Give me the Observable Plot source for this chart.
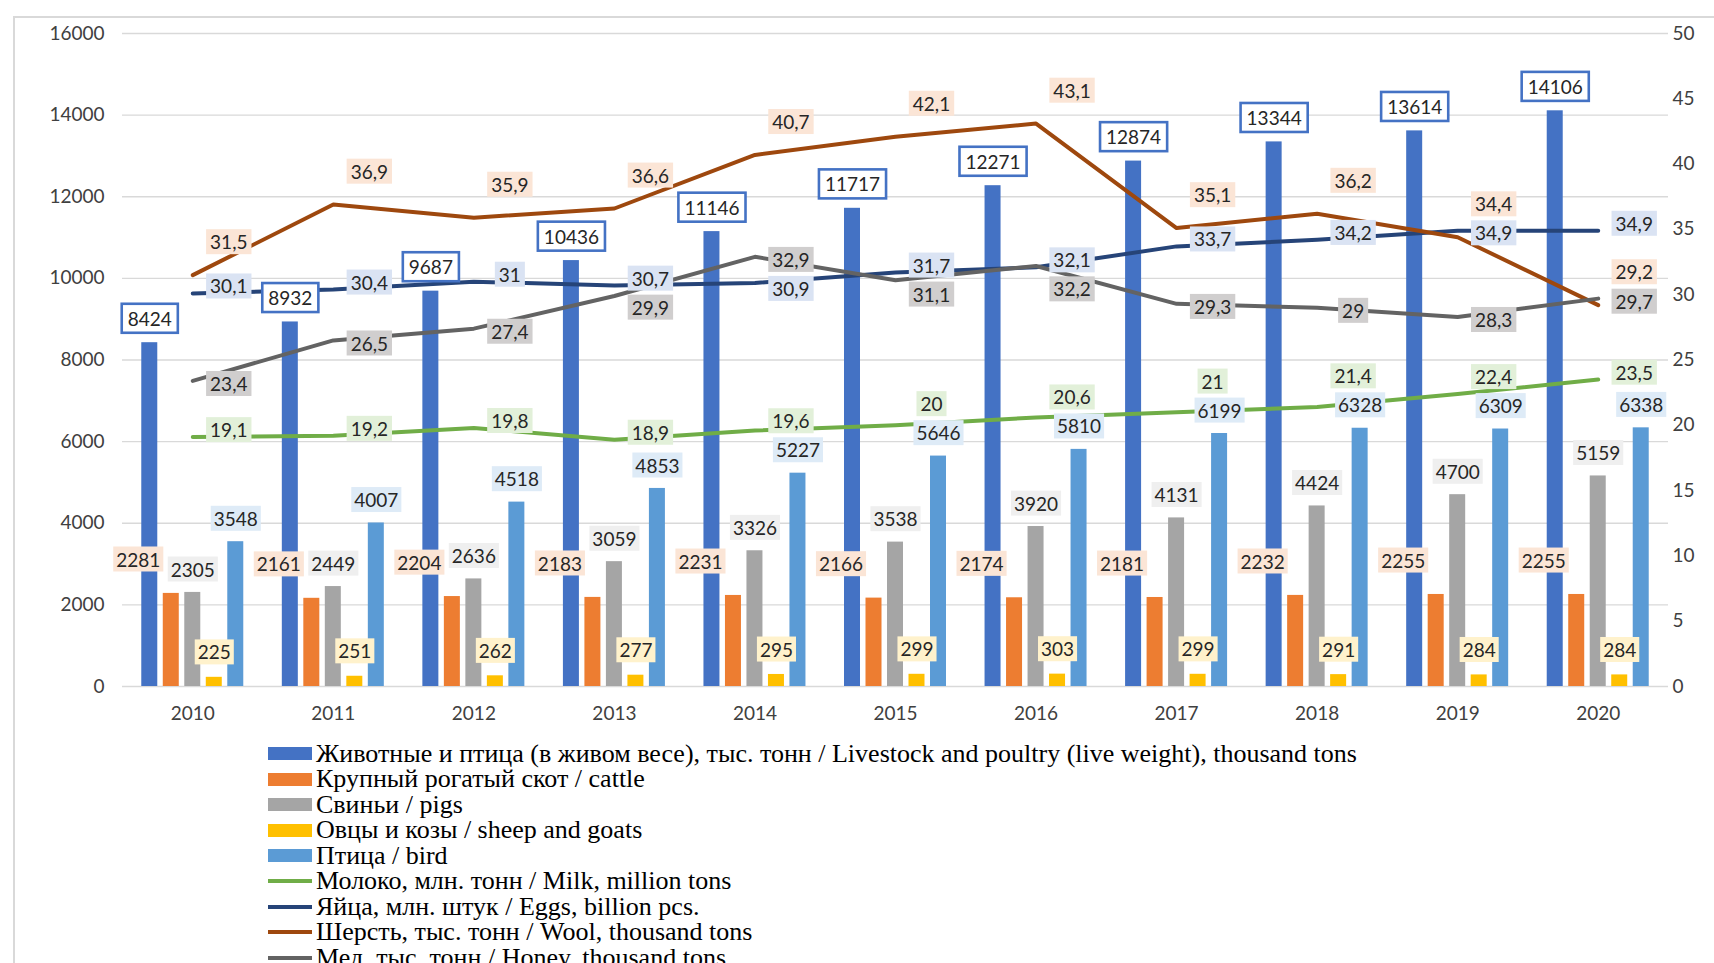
<!DOCTYPE html>
<html><head><meta charset="utf-8">
<script src="https://cdn.jsdelivr.net/npm/d3@7"></script>
<script src="https://cdn.jsdelivr.net/npm/@observablehq/plot@0.6"></script>
<style>
body{margin:0;background:#fff;}
#wrap{position:relative;width:1714px;height:963px;overflow:hidden;font-family:Lato,sans-serif;background:#fff;}
#frame{position:absolute;left:13px;top:16px;width:1720px;height:960px;border-top:2px solid #d9d9d9;border-left:2px solid #d9d9d9;}
#chart{position:absolute;left:0;top:0;}
#legend{position:absolute;left:268px;top:741px;font-family:"Liberation Serif",serif;font-size:26px;color:#000;}
.row{height:25.5px;display:flex;align-items:center;white-space:nowrap;}
.sw{display:inline-block;width:44px;margin-right:4px;flex:none;}
.tx{display:block;height:22px;line-height:22px;overflow:visible;}
</style></head>
<body><div id="wrap"><div id="frame"></div><div id="chart"></div><div id="legend"></div></div>
<script>
// ---- data ----
const years = [2010, 2011, 2012, 2013, 2014, 2015, 2016, 2017, 2018, 2019, 2020];
const livestock = [8424, 8932, 9687, 10436, 11146, 11717, 12271, 12874, 13344, 13614, 14106];
const cattle = [2281, 2161, 2204, 2183, 2231, 2166, 2174, 2181, 2232, 2255, 2255];
const pigs = [2305, 2449, 2636, 3059, 3326, 3538, 3920, 4131, 4424, 4700, 5159];
const sheep = [225, 251, 262, 277, 295, 299, 303, 299, 291, 284, 284];
const bird = [3548, 4007, 4518, 4853, 5227, 5646, 5810, 6199, 6328, 6309, 6338];
const milk = [19.1, 19.2, 19.8, 18.9, 19.6, 20, 20.6, 21, 21.4, 22.4, 23.5];
const eggs = [30.1, 30.4, 31, 30.7, 30.9, 31.7, 32.1, 33.7, 34.2, 34.9, 34.9];
const wool = [31.5, 36.9, 35.9, 36.6, 40.7, 42.1, 43.1, 35.1, 36.2, 34.4, 29.2];
const honey = [23.4, 26.5, 27.4, 29.9, 32.9, 31.1, 32.2, 29.3, 29, 28.3, 29.7];
const leftTicks = [0, 2000, 4000, 6000, 8000, 10000, 12000, 14000, 16000];
const rightTicks = [0, 5, 10, 15, 20, 25, 30, 35, 40, 45, 50];
const legendLabels = [
  "Животные и птица (в живом весе), тыс. тонн / Livestock and poultry (live weight), thousand tons",
  "Крупный рогатый скот / cattle",
  "Свиньи / pigs",
  "Овцы и козы / sheep and goats",
  "Птица / bird",
  "Молоко, млн. тонн / Milk, million tons",
  "Яйца, млн. штук / Eggs, billion pcs.",
  "Шерсть,  тыс. тонн / Wool, thousand tons",
  "Мед,  тыс. тонн / Honey, thousand tons"
];

// ---- layout / styles ----
const W = 1714, H = 740, mL = 122, mR = 46, mT = 33, mB = 54;
const yMax = 16000, rMax = 50, K = yMax / rMax;
const unitsPerPx = yMax / (H - mT - mB);
const step = (W - mL - mR) / years.length;
const bw = 16, pitch = 21.5;

const barSeries = [
  {key: "livestock", values: livestock, color: "#4472C4", box: "#ffffff", boxStroke: "#4472C4", dx: 0, dy: -23},
  {key: "cattle", values: cattle, color: "#ED7D31", box: "#FBE5D6", dx: -33, dy: -33},
  {key: "pigs", values: pigs, color: "#A5A5A5", box: "#EFEFEF", dx: 0, dy: -22},
  {key: "sheep", values: sheep, color: "#FFC000", box: "#FFF2CC", dx: 0, dy: -24},
  {key: "bird", values: bird, color: "#5B9BD5", box: "#DEEBF7", dx: 0, dy: -22}
];
const lineSeries = [
  {key: "milk", values: milk, color: "#70AD47", box: "#E2F0D9", dy: -6},
  {key: "eggs", values: eggs, color: "#264478", box: "#DAE3F3", dy: -6},
  {key: "wool", values: wool, color: "#9E480E", box: "#FBE5D6", dy: -32},
  {key: "honey", values: honey, color: "#636363", box: "#D0CECE", dy: 4}
];
const fmt = v => String(v).replace(".", ",");

// line label positions: start from a per-series offset, then push apart vertically
const gap = 29 * unitsPerPx;
const lineLabels = [];
years.forEach((yr, k) => {
  const arr = lineSeries.map(s => ({key: s.key, year: yr, value: s.values[k],
    ly: s.values[k] * K - s.dy * unitsPerPx}));
  // keep milk labels clear of the bird-bar labels beneath them
  const birdLy = bird[k] + 22 * unitsPerPx;
  const m = arr.find(d => d.key === "milk");
  if (m.ly - birdLy < gap) m.ly = birdLy + gap;
  arr.sort((a, b) => b.ly - a.ly);
  for (let i = 1; i < arr.length; i++) if (arr[i - 1].ly - arr[i].ly < gap) arr[i].ly = arr[i - 1].ly - gap;
  lineLabels.push(...arr);
});

const marks = [
  Plot.ruleY(leftTicks, {stroke: "#d9d9d9", strokeWidth: 1.3}),
  Plot.axisY(leftTicks, {anchor: "left", tickSize: 0, tickPadding: 18, tickFormat: d => String(d), fill: "#404040", label: null}),
  Plot.axisY(rightTicks.map(t => t * K), {anchor: "right", tickSize: 0, tickPadding: 4, tickFormat: d => String(d / K), fill: "#404040", label: null}),
  Plot.axisX(years, {anchor: "bottom", tickSize: 0, tickPadding: 20, tickFormat: d => String(d), fill: "#404040", label: null})
];
barSeries.forEach((s, i) => {
  const off = (i - 2) * pitch;
  const rows = years.map((yr, k) => ({year: yr, value: s.values[k]}));
  marks.push(Plot.rect(rows, {x1: d => d.year - 0.5, x2: d => d.year + 0.5, y1: 0, y2: "value", fill: s.color,
    insetLeft: step / 2 - bw / 2 + off, insetRight: step / 2 - bw / 2 - off}));
});
lineSeries.forEach(s => {
  const rows = years.map((yr, k) => ({year: yr, value: s.values[k] * K}));
  marks.push(Plot.line(rows, {x: "year", y: "value", stroke: s.color, strokeWidth: 4, strokeLinejoin: "round"}));
});
barSeries.forEach((s, i) => {
  const off = (i - 2) * pitch;
  const rows = years.map((yr, k) => ({year: yr, value: s.values[k]}));
  marks.push(Plot.text(rows, {x: "year", y: "value", text: d => String(d.value), dx: off + s.dx, dy: s.dy,
    fill: "#262626", fontSize: 19, ariaDescription: "box-" + s.key}));
});
lineSeries.forEach(s => {
  marks.push(Plot.text(lineLabels.filter(d => d.key === s.key), {x: "year", y: "ly", text: d => fmt(d.value), dx: 36,
    fill: "#262626", fontSize: 19, ariaDescription: "box-" + s.key}));
});

const chart = Plot.plot({
  width: W, height: H, marginLeft: mL, marginRight: mR, marginTop: mT, marginBottom: mB,
  style: {fontFamily: "Lato, sans-serif", fontSize: "19px", background: "transparent", overflow: "visible"},
  x: {domain: [years[0] - 0.5, years[years.length - 1] + 0.5], axis: null},
  y: {domain: [0, yMax], axis: null},
  marks
});
document.getElementById("chart").appendChild(chart);

// label boxes behind texts
function boxify(s, padX, padY, sw) {
  chart.querySelectorAll(`g[aria-description="box-${s.key}"] text`).forEach(t => {
    const b = t.getBBox();
    const r = document.createElementNS("http://www.w3.org/2000/svg", "rect");
    r.setAttribute("x", b.x - padX); r.setAttribute("y", b.y - padY);
    r.setAttribute("width", b.width + 2 * padX); r.setAttribute("height", b.height + 2 * padY);
    r.setAttribute("fill", s.box);
    if (s.boxStroke) { r.setAttribute("stroke", s.boxStroke); r.setAttribute("stroke-width", sw); }
    if (t.getAttribute("transform")) r.setAttribute("transform", t.getAttribute("transform"));
    t.parentNode.insertBefore(r, t);
  });
}
barSeries.forEach(s => boxify(s, s.boxStroke ? 6 : 3, s.boxStroke ? 3 : 1, 2.6));
lineSeries.forEach(s => boxify(s, 4, 1, 0));

// legend
const legendItems = [...barSeries.map(s => ({color: s.color, bar: true})), ...lineSeries.map(s => ({color: s.color, bar: false}))];
const lg = document.getElementById("legend");
legendItems.forEach((it, i) => {
  const row = document.createElement("div"); row.className = "row";
  const sw = document.createElement("span"); sw.className = "sw";
  sw.style.height = it.bar ? "13px" : "4px"; sw.style.background = it.color;
  const tx = document.createElement("span"); tx.className = "tx"; tx.textContent = legendLabels[i];
  row.appendChild(sw); row.appendChild(tx); lg.appendChild(row);
});
</script>
</body></html>
